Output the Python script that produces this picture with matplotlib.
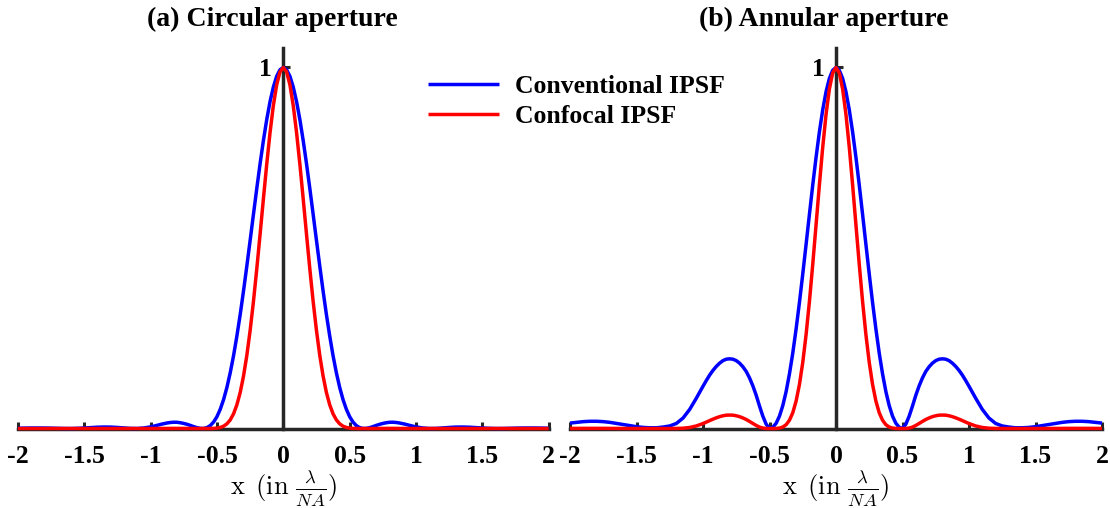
import matplotlib
matplotlib.use("Agg")
import matplotlib.pyplot as plt

# ---------------- data ----------------
X_POS = [
    -2.0, -1.95, -1.9, -1.85, -1.8, -1.75, -1.7, -1.65, -1.6, -1.55,
    -1.5, -1.45, -1.4, -1.35, -1.3, -1.25, -1.2, -1.15, -1.1, -1.05,
    -1.0, -0.975, -0.95, -0.925, -0.9, -0.875, -0.85, -0.825, -0.8, -0.775,
    -0.75, -0.725, -0.7, -0.675, -0.65, -0.625, -0.6, -0.575, -0.55, -0.525,
    -0.5, -0.475, -0.45, -0.425, -0.4, -0.375, -0.35, -0.325, -0.3, -0.275,
    -0.25, -0.225, -0.2, -0.175, -0.15, -0.125, -0.1, -0.075, -0.05, -0.025,
    0.0,
    0.025, 0.05, 0.075, 0.1, 0.125, 0.15, 0.175, 0.2, 0.225, 0.25,
    0.275, 0.3, 0.325, 0.35, 0.375, 0.4, 0.425, 0.45, 0.475, 0.5,
    0.525, 0.55, 0.575, 0.6, 0.625, 0.65, 0.675, 0.7, 0.725, 0.75,
    0.775, 0.8, 0.825, 0.85, 0.875, 0.9, 0.925, 0.95, 0.975, 1.0,
    1.05, 1.1, 1.15, 1.2, 1.25, 1.3, 1.35, 1.4, 1.45, 1.5,
    1.55, 1.6, 1.65, 1.7, 1.75, 1.8, 1.85, 1.9, 1.95, 2.0,
]

CONV_CIRC = [
    0.0008, 0.0011, 0.0014, 0.0014, 0.0013, 0.0010, 0.0005, 0.0001, 0.0000, 0.0005,
    0.0014, 0.0025, 0.0036, 0.0041, 0.0039, 0.0029, 0.0015, 0.0003, 0.0001, 0.0015,
    0.0045, 0.0066, 0.0089, 0.0113, 0.0134, 0.0153, 0.0167, 0.0174, 0.0172, 0.0159,
    0.0140, 0.0115, 0.0085, 0.0051, 0.0022, 0.0004, 0.0002, 0.0025, 0.0081, 0.0180,
    0.0328, 0.0534, 0.0802, 0.1137, 0.1543, 0.2015, 0.2558, 0.3152, 0.3806, 0.4495,
    0.5208, 0.5931, 0.6645, 0.7332, 0.7975, 0.8554, 0.9053, 0.9458, 0.9756, 0.9938,
    1.0,
    0.9938, 0.9756, 0.9458, 0.9053, 0.8554, 0.7975, 0.7332, 0.6645, 0.5931, 0.5208,
    0.4495, 0.3806, 0.3152, 0.2558, 0.2015, 0.1543, 0.1137, 0.0802, 0.0534, 0.0328,
    0.0180, 0.0081, 0.0025, 0.0002, 0.0004, 0.0022, 0.0051, 0.0085, 0.0115, 0.0140,
    0.0159, 0.0172, 0.0174, 0.0167, 0.0153, 0.0134, 0.0113, 0.0089, 0.0066, 0.0045,
    0.0015, 0.0001, 0.0003, 0.0015, 0.0029, 0.0039, 0.0041, 0.0036, 0.0025, 0.0014,
    0.0005, 0.0000, 0.0001, 0.0005, 0.0010, 0.0013, 0.0014, 0.0014, 0.0011, 0.0008,
]

CONF_CIRC = [
    0.0, 0.0, 0.0, 0.0, 0.0, 0.0, 0.0, 0.0, 0.0, 0.0,
    0.0, 0.0, 0.0, 0.0, 0.0, 0.0, 0.0, 0.0, 0.0, 0.0,
    0.0, 0.0, 0.0001, 0.0001, 0.0002, 0.0002, 0.0003, 0.0003, 0.0003, 0.0003,
    0.0002, 0.0001, 0.0001, 0.0, 0.0, 0.0, 0.0, 0.0, 0.0001, 0.0003,
    0.0011, 0.0029, 0.0064, 0.0129, 0.0238, 0.0406, 0.0654, 0.0994, 0.1449, 0.2020,
    0.2713, 0.3518, 0.4416, 0.5376, 0.6360, 0.7317, 0.8195, 0.8945, 0.9518, 0.9877,
    1.0,
    0.9877, 0.9518, 0.8945, 0.8195, 0.7317, 0.6360, 0.5376, 0.4416, 0.3518, 0.2713,
    0.2020, 0.1449, 0.0994, 0.0654, 0.0406, 0.0238, 0.0129, 0.0064, 0.0029, 0.0011,
    0.0003, 0.0001, 0.0, 0.0, 0.0, 0.0, 0.0, 0.0001, 0.0001, 0.0002,
    0.0003, 0.0003, 0.0003, 0.0003, 0.0002, 0.0002, 0.0001, 0.0001, 0.0, 0.0,
    0.0, 0.0, 0.0, 0.0, 0.0, 0.0, 0.0, 0.0, 0.0, 0.0,
    0.0, 0.0, 0.0, 0.0, 0.0, 0.0, 0.0, 0.0, 0.0, 0.0,
]

CONV_ANN = [
    0.015, 0.017, 0.019, 0.020, 0.020, 0.019, 0.017, 0.014, 0.011, 0.008,
    0.005, 0.003, 0.002, 0.002, 0.004, 0.007, 0.014, 0.029, 0.053, 0.084,
    0.117, 0.133, 0.148, 0.161, 0.172, 0.181, 0.188, 0.192, 0.193, 0.192,
    0.188, 0.181, 0.171, 0.158, 0.140, 0.118, 0.092, 0.062, 0.034, 0.012,
    0.0, 0.0035, 0.0146, 0.0343, 0.0635, 0.1023, 0.1513, 0.2089, 0.2756, 0.3488,
    0.4277, 0.5097, 0.5925, 0.6739, 0.7508, 0.8212, 0.8824, 0.9325, 0.9695, 0.9923,
    1.0,
    0.9923, 0.9695, 0.9325, 0.8824, 0.8212, 0.7508, 0.6739, 0.5925, 0.5097, 0.4277,
    0.3488, 0.2756, 0.2089, 0.1513, 0.1023, 0.0635, 0.0343, 0.0146, 0.0035, 0.0,
    0.012, 0.034, 0.062, 0.092, 0.118, 0.140, 0.158, 0.171, 0.181, 0.188,
    0.192, 0.193, 0.192, 0.188, 0.181, 0.172, 0.161, 0.148, 0.133, 0.117,
    0.084, 0.053, 0.029, 0.014, 0.007, 0.004, 0.002, 0.002, 0.003, 0.005,
    0.008, 0.011, 0.014, 0.017, 0.019, 0.020, 0.020, 0.019, 0.017, 0.015,
]

CONF_ANN = [
    0.0002, 0.0003, 0.0004, 0.0004, 0.0004, 0.0004, 0.0003, 0.0002, 0.0001, 0.0001,
    0.0, 0.0, 0.0, 0.0, 0.0, 0.0, 0.0002, 0.0008, 0.0028, 0.0071,
    0.0137, 0.0177, 0.0219, 0.0259, 0.0296, 0.0328, 0.0353, 0.0369, 0.0372, 0.0369,
    0.0353, 0.0328, 0.0292, 0.0250, 0.0196, 0.0139, 0.0085, 0.0038, 0.0012, 0.0001,
    0.0, 0.0, 0.0002, 0.0012, 0.0040, 0.0105, 0.0229, 0.0436, 0.0760, 0.1217,
    0.1829, 0.2598, 0.3511, 0.4541, 0.5637, 0.6744, 0.7786, 0.8696, 0.9399, 0.9847,
    1.0,
    0.9847, 0.9399, 0.8696, 0.7786, 0.6744, 0.5637, 0.4541, 0.3511, 0.2598, 0.1829,
    0.1217, 0.0760, 0.0436, 0.0229, 0.0105, 0.0040, 0.0012, 0.0002, 0.0, 0.0,
    0.0001, 0.0012, 0.0038, 0.0085, 0.0139, 0.0196, 0.0250, 0.0292, 0.0328, 0.0353,
    0.0369, 0.0372, 0.0369, 0.0353, 0.0328, 0.0296, 0.0259, 0.0219, 0.0177, 0.0137,
    0.0071, 0.0028, 0.0008, 0.0002, 0.0, 0.0, 0.0, 0.0, 0.0, 0.0,
    0.0001, 0.0001, 0.0002, 0.0003, 0.0004, 0.0004, 0.0004, 0.0004, 0.0003, 0.0002,
]

X_TICKS = [-2, -1.5, -1, -0.5, 0, 0.5, 1, 1.5, 2]
X_TICK_LABELS = ["-2", "-1.5", "-1", "-0.5", "0", "0.5", "1", "1.5", "2"]
Y_TICKS = [1]
Y_TICK_LABELS = ["1"]
TITLES = ["(a) Circular aperture", "(b) Annular aperture"]
SERIES_LABELS = ["Conventional IPSF", "Confocal IPSF"]
XLABEL = r"$\mathrm{x}\ \,(\mathrm{in}\ \frac{\lambda}{NA})$"

# ---------------- style ----------------
plt.rcParams["font.family"] = ["Liberation Serif", "DejaVu Serif"]
plt.rcParams["font.weight"] = "bold"
plt.rcParams["mathtext.fontset"] = "cm"

AX_COLOR = "#262626"
BLUE = (0.0, 0.0, 1.0)
RED = (1.0, 0.0, 0.0)
LW = 2.5
TICK_FS = 18.5

W, H = 1110, 508
fig = plt.figure(figsize=(W / 100, H / 100), dpi=100)

axes = [
    fig.add_axes([17.9 / W, 1 - 428.5 / H, 530.8 / W, 380.5 / H]),
    fig.add_axes([570.0 / W, 1 - 428.5 / H, 532.0 / W, 380.5 / H]),
]
panels = [(CONV_CIRC, CONF_CIRC), (CONV_ANN, CONF_ANN)]
title_centers = [272.5, 824.0]
xlabel_centers = [283.5, 836.0]

lines = []
for ax, (conv, conf), title, tc, xc in zip(axes, panels, TITLES, title_centers,
                                           xlabel_centers):
    l1, = ax.plot(X_POS, conv, color=BLUE, lw=LW, clip_on=False, zorder=5,
                  label=SERIES_LABELS[0], solid_capstyle="butt")
    l2, = ax.plot(X_POS, conf, color=RED, lw=LW, clip_on=False, zorder=6,
                  label=SERIES_LABELS[1], solid_capstyle="butt")
    lines = [l1, l2]
    ax.set_xlim(-2, 2)
    ax.set_ylim(0, 1.054)
    ax.patch.set_alpha(0)

    for s in ("top", "right"):
        ax.spines[s].set_visible(False)
    ax.spines["left"].set_position(("data", 0))
    ax.spines["bottom"].set_position(("data", 0))
    for s in ("left", "bottom"):
        ax.spines[s].set_color(AX_COLOR)
        ax.spines[s].set_linewidth(2.5)
        ax.spines[s].set_zorder(3)

    ax.set_xticks(X_TICKS)
    ax.set_xticklabels(X_TICK_LABELS)
    ax.set_yticks(Y_TICKS)
    ax.set_yticklabels(Y_TICK_LABELS)
    ax.tick_params(axis="x", direction="in", length=5, width=2.2, color=AX_COLOR,
                   labelcolor="black", labelsize=TICK_FS, pad=12)
    ax.tick_params(axis="y", direction="in", length=5, width=2.2, color=AX_COLOR,
                   labelcolor="black", labelsize=TICK_FS, pad=8)
    for lab in ax.get_xticklabels() + ax.get_yticklabels():
        lab.set_fontweight("bold")

    fig.text(xc / W, 1 - 495 / H, XLABEL, ha="center", va="baseline",
             fontsize=19)

    fig.text(tc / W, 1 - 26 / H, title, ha="center", va="baseline",
             fontsize=20, fontweight="bold")

fig.legend(lines, SERIES_LABELS, loc="upper left",
           bbox_to_anchor=(428 / W, 1 - 75 / H), frameon=False,
           handlelength=2.75, handletextpad=0.65,
           labelspacing=0.27, borderpad=0, borderaxespad=0,
           prop={"weight": "bold", "size": 18.5})

fig.savefig("out.png", dpi=100)
